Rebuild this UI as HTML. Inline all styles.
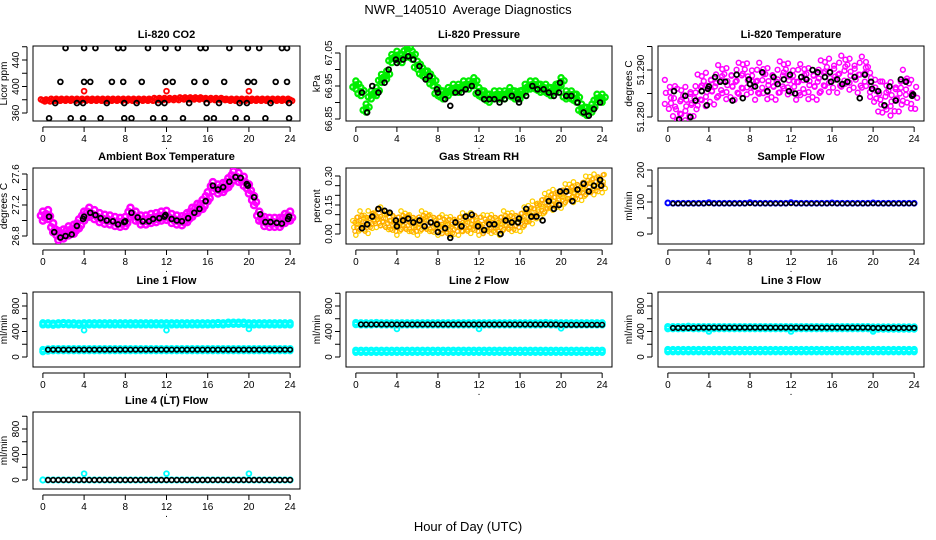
<!DOCTYPE html>
<html><head><meta charset="utf-8">
<style>
body{margin:0;background:#fff;}
svg{display:block;font-family:"Liberation Sans",sans-serif;}
.t{font-weight:bold;font-size:11px;text-anchor:middle;}
.tk{font-size:10px;text-anchor:middle;}
</style></head>
<body>
<svg id="chart" width="936" height="540" viewBox="0 0 936 540" xmlns="http://www.w3.org/2000/svg">
<text x="468" y="14" font-size="13" text-anchor="middle" xml:space="preserve">NWR_140510  Average Diagnostics</text>
<text x="468" y="531" font-size="13" text-anchor="middle">Hour of Day (UTC)</text>
</svg>
<script>
// ---------- data ----------
const hours49 = [0,0.5,1,1.5,2,2.5,3,3.5,4,4.5,5,5.5,6,6.5,7,7.5,8,8.5,9,9.5,10,10.5,11,11.5,12,12.5,13,13.5,14,14.5,15,15.5,16,16.5,17,17.5,18,18.5,19,19.5,20,20.5,21,21.5,22,22.5,23,23.5,24];
const xTicks = [0,4,8,12,16,20,24];

const co2Hours = [2.2,4.0,5.1,7.3,7.8,10.2,11.9,13.1,15.3,15.8,18.1,19.9,21.0,23.2,23.7, 1.7,4.0,4.6,6.7,7.8,9.6,11.9,12.6,14.7,15.8,17.6,19.9,20.5,22.6,23.7, 1.2,3.3,3.9,6.2,7.9,9.1,11.2,11.8,14.2,15.9,17.1,19.1,19.8,22.1,23.9, 0.6,2.7,3.9,5.6,7.9,8.6,10.7,11.8,13.6,15.9,16.6,18.7,19.8,21.6,23.9];
const co2Vals = [458,458,458,458,458,458,458,458,458,458,458,458,458,458,458, 407,407,407,407,407,407,407,407,407,407,407,407,407,407,407, 375,375,375,375,375,375,375,375,375,375,375,375,375,375,375, 352,352,352,352,352,352,352,352,352,352,352,352,352,352,352];
const co2Red = [379,379,380,380,380,380,380,380,380,380,380,380,380,380,380,380,380,380,380,380,380,380,381,381,381,381,381,382,382,382,382,382,381,381,381,381,380,380,380,380,380,380,380,380,380,380,380,380,380];
const co2RedOutHours = [4,12,20];
const co2RedOutVals = [393,393,393];

const pressGreen = [66.95,66.93,66.88,66.92,66.93,66.97,66.98,67.03,67.04,67.03,67.06,67.04,67.01,66.99,66.98,66.96,66.93,66.92,66.93,66.94,66.94,66.95,66.95,66.96,66.93,66.92,66.91,66.92,66.92,66.92,66.93,66.92,66.92,66.94,66.95,66.95,66.94,66.94,66.93,66.94,66.96,66.92,66.92,66.91,66.88,66.87,66.88,66.91,66.91];
const pressBlkHours = [0.6,1.1,1.6,2.2,2.8,3.2,3.9,4.0,4.6,5.1,5.6,6.2,6.8,7.2,7.9,8.0,8.7,9.2,9.7,10.3,10.7,11.3,11.9,12.5,13.0,13.5,14.0,14.5,15.2,15.8,15.9,16.6,17.2,17.7,18.3,18.8,19.3,19.8,19.9,20.5,21.0,21.6,22.2,22.7,23.2,23.8];
const pressBlkVals = [66.93,66.87,66.95,66.93,66.96,67.00,67.03,67.02,67.03,67.04,67.03,67.01,66.97,66.98,66.94,66.93,66.91,66.89,66.93,66.93,66.94,66.95,66.93,66.91,66.91,66.91,66.90,66.91,66.92,66.91,66.90,66.92,66.95,66.94,66.94,66.93,66.92,66.93,66.96,66.92,66.92,66.90,66.87,66.86,66.88,66.90];

const tempMag = [51.2845,51.2840,51.2820,51.2825,51.2830,51.2840,51.2850,51.2855,51.2860,51.2865,51.2870,51.2870,51.2870,51.2875,51.2875,51.2880,51.2880,51.2875,51.2875,51.2870,51.2870,51.2875,51.2878,51.2880,51.2880,51.2875,51.2872,51.2870,51.2870,51.2875,51.2880,51.2885,51.2890,51.2890,51.2890,51.2890,51.2890,51.2890,51.2888,51.2885,51.2860,51.2850,51.2835,51.2835,51.2840,51.2850,51.2860,51.2850,51.2845];
const tempBlkHours = [0.6,1.1,1.7,2.2,2.7,3.3,3.8,3.9,4.0,4.6,5.1,5.6,6.3,6.7,7.3,7.9,8.0,8.5,9.2,9.7,10.3,10.7,11.3,11.8,11.9,12.4,13.0,13.5,14.1,14.6,15.3,15.8,15.9,16.5,17.0,17.5,18.2,18.7,19.2,19.8,19.9,20.5,21.1,21.6,22.2,22.7,23.2,23.8,23.9];
const tempBlkVals = [51.2855,51.2795,51.2845,51.2800,51.2835,51.2855,51.2825,51.2860,51.2865,51.2885,51.2875,51.2875,51.2835,51.2890,51.2840,51.2880,51.2870,51.2865,51.2895,51.2855,51.2885,51.2870,51.2880,51.2855,51.2890,51.2850,51.2885,51.2880,51.2900,51.2895,51.2885,51.2895,51.2875,51.2880,51.2870,51.2875,51.2885,51.2840,51.2890,51.2875,51.2860,51.2855,51.2825,51.2865,51.2835,51.2880,51.2875,51.2845,51.2848];

const ambMag = [27.05,27.07,26.90,26.80,26.82,26.86,26.88,26.95,27.05,27.10,27.07,27.03,27.01,27.00,26.98,26.97,26.98,27.10,27.05,27.00,27.00,27.02,27.03,27.05,27.06,27.02,27.00,26.99,27.03,27.10,27.15,27.20,27.30,27.43,27.40,27.42,27.48,27.57,27.55,27.50,27.40,27.25,27.05,26.98,26.97,26.97,26.97,27.02,27.05];
const ambBlkHours = [0.6,1.1,1.7,2.2,2.8,3.3,3.9,4.0,4.6,5.1,5.6,6.2,6.8,7.3,7.9,8.0,8.6,9.2,9.7,10.3,10.7,11.3,11.8,11.9,12.5,13.0,13.5,14.1,14.7,15.2,15.8,16.5,17.0,17.5,18.1,18.7,19.2,19.8,19.9,20.5,21.1,21.6,22.1,22.7,23.2,23.8,23.9];
const ambBlkVals = [27.05,26.85,26.78,26.80,26.82,26.93,27.02,27.05,27.10,27.07,27.03,27.00,26.99,26.95,26.98,26.99,27.10,27.04,26.99,26.99,27.02,27.03,27.05,27.07,27.02,27.00,26.99,27.03,27.10,27.15,27.25,27.45,27.40,27.43,27.50,27.56,27.55,27.47,27.45,27.30,27.08,26.98,26.98,26.97,26.96,27.02,27.05];

const rhOrange = [0.05,0.06,0.05,0.07,0.09,0.08,0.07,0.06,0.05,0.06,0.06,0.05,0.05,0.06,0.06,0.05,0.05,0.04,0.04,0.04,0.05,0.05,0.05,0.06,0.05,0.04,0.05,0.05,0.05,0.06,0.06,0.06,0.07,0.08,0.10,0.12,0.14,0.15,0.17,0.18,0.19,0.20,0.21,0.22,0.23,0.24,0.25,0.26,0.27];
const rhBlkHours = [0.6,1.1,1.6,2.2,2.8,3.3,3.9,4.0,4.6,5.1,5.6,6.2,6.7,7.3,7.9,8.0,8.7,9.2,9.7,10.3,10.7,11.3,11.9,12.5,13.0,13.5,14.1,14.6,15.2,15.8,15.9,16.6,17.1,17.6,18.2,18.8,19.3,19.8,19.9,20.5,21.1,21.6,22.2,22.7,23.2,23.8,23.9];
const rhBlkVals = [0.03,0.05,0.09,0.13,0.12,0.11,0.07,0.04,0.07,0.08,0.06,0.07,0.04,0.06,0.05,0.01,0.03,-0.02,0.06,0.04,0.09,0.10,0.04,0.02,0.05,0.05,0.00,0.07,0.06,0.06,0.08,0.13,0.09,0.09,0.07,0.17,0.13,0.15,0.22,0.22,0.17,0.23,0.26,0.22,0.25,0.28,0.25];

const sampleBlue = [97,96,96,96,96,96,96,96,98,96,96,96,96,96,96,96,98,96,96,96,96,96,96,96,98,96,96,96,96,96,96,96,97,96,96,96,96,96,96,96,97,96,96,96,96,96,96,96,96];
const sampleBlk = [null,95,95,95,95,95,95,95,95,95,95,95,95,95,95,95,95,95,95,95,95,95,95,95,95,95,95,95,95,95,95,95,95,95,95,95,95,95,95,95,95,95,95,95,95,95,95,95,95];

const l1CyanHi = [520,520,515,520,525,520,520,515,520,520,520,520,520,520,520,520,520,520,520,520,520,520,520,520,520,520,520,520,520,520,520,520,520,520,525,520,530,530,530,530,520,520,520,520,520,520,520,520,520];
const l1CyanLo = [100,110,115,115,115,115,115,115,115,115,115,115,115,115,115,115,115,115,115,115,115,115,115,115,115,115,115,115,115,115,115,115,115,115,115,115,115,115,115,115,115,115,115,115,115,115,115,115,115];
const l1Blk = [null,115,115,115,115,115,115,115,115,115,115,115,115,115,115,115,115,115,115,115,115,115,115,115,115,115,115,115,115,115,115,115,115,115,115,115,115,115,115,115,115,115,115,115,115,115,115,115,115];
const l2CyanHi = [525,520,520,520,525,520,520,520,520,520,520,520,520,520,520,520,520,520,520,520,520,520,520,520,520,520,520,520,520,520,520,520,520,520,520,520,520,525,520,520,520,520,520,520,520,520,520,520,520];
const l2CyanLo = [90,90,90,90,90,90,90,90,90,90,90,90,90,90,90,90,90,90,90,90,90,90,90,90,90,90,90,90,90,90,90,90,90,90,90,90,90,90,90,90,90,90,90,90,90,90,90,90,90];
const l2Blk = [null,510,510,510,510,510,510,510,510,510,510,510,510,510,510,510,510,510,510,510,510,510,510,510,510,510,510,510,510,510,510,510,510,510,510,510,510,510,510,510,505,505,505,505,505,505,505,505,505];
const l3CyanHi = [460,460,460,460,465,460,460,460,460,460,460,460,460,460,460,460,460,460,460,460,460,460,460,460,460,460,460,460,460,460,460,460,460,460,460,460,460,460,460,460,455,455,455,455,455,455,455,455,455];
const l3CyanLo = [100,100,100,100,100,100,100,100,100,100,100,100,100,100,100,100,100,100,100,100,100,100,100,100,100,100,100,100,100,100,100,100,100,100,100,100,100,100,100,100,100,100,100,100,100,100,100,100,100];
const l3Blk = [null,455,455,455,455,455,460,460,460,460,460,460,460,460,460,460,460,460,460,460,460,460,460,460,460,460,460,460,460,460,460,460,460,460,460,460,460,460,460,460,455,455,455,455,455,455,455,455,455];
const l4Cyan = [0,0,0,0,0,0,0,0,0,0,0,0,0,0,0,0,0,0,0,0,0,0,0,0,0,0,0,0,0,0,0,0,0,0,0,0,0,0,0,0,0,0,0,0,0,0,0,0,0];
const l4Blk = [null,0,0,0,0,0,0,0,0,0,0,0,0,0,0,0,0,0,0,0,0,0,0,0,0,0,0,0,0,0,0,0,0,0,0,0,0,0,0,0,0,0,0,0,0,0,0,0,0];
const outHours = [4,12,20];
const l1Out = [420,420,440];
const l2Out = [440,440,450];
const l3Out = [400,400,400];
const l4Out = [100,100,100];

// ---------- drawing ----------
const NS = 'http://www.w3.org/2000/svg';
const svg = document.getElementById('chart');
function mk(tag, attrs, parent){
  const e = document.createElementNS(NS, tag);
  for (const k in attrs) e.setAttribute(k, attrs[k]);
  (parent||svg).appendChild(e);
  return e;
}
const cols = [[33,300],[346,612],[658,924]];
const rows = [[46,121],[168,244],[292,367],[412,489]];

function panel(name, title, ytitle, c, r, v1, p1, v2, p2, yticks, ylabels, fmt){
  const [L,R] = cols[c], [T,B] = rows[r];
  const g = mk('g', {});
  
  
  const xs = h => L + (R-L)*(h+0.96)/25.92;
  const ys = v => p1 + (v - v1)*(p2-p1)/(v2-v1);
  const t = mk('text', {x:(L+R)/2, y:T-8, class:'t'}, g); t.textContent = title;
  
  
  const box = mk('rect', {x:L, y:T, width:R-L, height:B-T, fill:'none', stroke:'#000', 'stroke-width':1}, g);
  
  
  const xa = mk('g', {}, g);
  
  
  mk('line', {x1:xs(0), x2:xs(24), y1:B+6, y2:B+6, stroke:'#000'}, xa);
  xTicks.forEach(h => {
    mk('line', {x1:xs(h), x2:xs(h), y1:B+6, y2:B+11, stroke:'#000'}, xa);
    const tx = mk('text', {x:xs(h), y:B+21, class:'tk'}, xa); tx.textContent = h;
  });
  const dot = mk('text', {x:(L+R)/2, y:B+28, class:'tk'}, xa); dot.textContent = '.';
  const ya = mk('g', {}, g);
  
  
  mk('line', {x1:L-6, x2:L-6, y1:Math.min(...yticks.map(ys)), y2:Math.max(...yticks.map(ys)), stroke:'#000'}, ya);
  yticks.forEach(v => mk('line', {x1:L-11, x2:L-6, y1:ys(v), y2:ys(v), stroke:'#000'}, ya));
  ylabels.forEach(v => {
    const tx = mk('text', {x:L-14, y:ys(v), class:'tk', transform:`rotate(-90 ${L-14} ${ys(v)})`}, ya);
    tx.textContent = fmt ? fmt(v) : v;
  });
  const yt = mk('text', {x:L-26, y:(T+B)/2, class:'tk', transform:`rotate(-90 ${L-26} ${(T+B)/2})`}, g);
  yt.textContent = ytitle;
  
  
  const clip = 'clip' + name;
  const cp = mk('clipPath', {id:clip}, g); mk('rect', {x:L, y:T, width:R-L, height:B-T}, cp);
  const plot = mk('g', {'clip-path':`url(#${clip})`}, g);
  return {xs, ys, g:plot, name};
}
function pts(P, hrs, vals, color, sname, opts){
  opts = opts || {};
  const sg = mk('g', {}, P.g);
  
  
  hrs.forEach((h, i) => {
    const v = vals[i];
    if (v === null || v === undefined) return;
    const x = P.xs(h), y = P.ys(v);
    const offs = opts.band ? (typeof opts.band === 'function' ? opts.band(i) : opts.band) : [[0,0]];
    offs.forEach(o => {
      const c = mk('circle', {cx:x+o[0], cy:y+o[1], r:opts.r||2.4, fill:opts.fill||'none', stroke:color, 'stroke-width':opts.sw||1.8}, sg);
      
      
    });
  });
}
const RED='#ff0000', GRN='#00ee00', MAG='#ff00ff', ORG='#ffa500', CY='#00ffff', BLU='#0000ff';

// CO2
let P = panel('co2','Li-820 CO2','Licor ppm',0,0,360,113,440,60,[360,380,400,420,440,460],[360,400,440]);
pts(P, hours49, co2Red, RED, 'co2-red', {band:[[-2,-1],[2,1],[0,0]], r:2.3, sw:2});
pts(P, co2RedOutHours, co2RedOutVals, RED, 'co2-red-outlier');
pts(P, co2Hours, co2Vals, '#000', 'co2-black');

// Pressure
P = panel('pressure','Li-820 Pressure','kPa',1,0,66.85,119,67.05,53,[66.85,66.90,66.95,67.00,67.05],[66.85,66.95,67.05],v=>v.toFixed(2));
pts(P, hours49, pressGreen, GRN, 'pressure-green', {band:[[0,-5],[0,-1],[0,3],[-3,1],[3,-2]], r:2.6, sw:2.2});
pts(P, pressBlkHours, pressBlkVals, '#000', 'pressure-black');

// Temperature (irregular scatter pattern)
const scatterSets = [
  [[-3,-16],[2,-9],[-2,-3],[3,2],[-3,8],[1,13]],
  [[2,-12],[-3,-6],[1,0],[-2,5],[3,11],[0,18]],
  [[-1,-19],[3,-8],[-3,-1],[2,6],[-1,12]],
  [[0,-10],[-3,-4],[3,1],[-2,9],[2,15],[-2,-15]]
];
P = panel('li820-temp','Li-820 Temperature','degrees C',2,0,51.280,117,51.290,70,[51.280,51.285,51.290,51.295],[51.280,51.290],v=>v.toFixed(3));
pts(P, hours49, tempMag, MAG, 'temp-magenta', {band:i=>scatterSets[i%4], r:2.4, sw:1.5});
pts(P, tempBlkHours, tempBlkVals, '#000', 'temp-black');

// Ambient
P = panel('ambient','Ambient Box Temperature','degrees C',0,1,26.8,236,27.6,174,[26.8,27.0,27.2,27.4,27.6],[26.8,27.2,27.6],v=>v.toFixed(1));
pts(P, hours49, ambMag, MAG, 'ambient-magenta', {band:[[0,-5],[-2,-1],[2,1],[0,4]], r:3, sw:2.5});
pts(P, ambBlkHours, ambBlkVals, '#000', 'ambient-black');

// RH
P = panel('rh','Gas Stream RH','percent',1,1,0,234,0.30,176,[0,0.05,0.10,0.15,0.20,0.25,0.30],[0,0.15,0.30],v=>v.toFixed(2));
pts(P, hours49, rhOrange, '#ffd000', 'rh-yellow', {band:i=>scatterSets[(i+1)%4].map(o=>[o[0],o[1]*0.6]), r:2.2, sw:1.3});
pts(P, hours49, rhOrange, ORG, 'rh-orange', {band:[[1,-7],[-1,-2],[1,3],[-1,7]], r:2, sw:1.2});
pts(P, rhBlkHours, rhBlkVals, '#000', 'rh-black');

// Sample flow
P = panel('sample-flow','Sample Flow','ml/min',2,1,0,234,200,170,[0,50,100,150,200],[0,100,200]);
pts(P, hours49, sampleBlue, BLU, 'sample-blue', {r:2.4, sw:2});
pts(P, hours49, sampleBlk, '#000', 'sample-black', {r:2, sw:1.3});

// Line flows
const fticks=[0,200,400,600,800,1000], flabels=[0,400,800];
const cyBand = {band:[[0,-1],[0,1]], r:2.6, sw:2.2};
P = panel('line1','Line 1 Flow','ml/min',0,2,0,357,800,306,fticks,flabels);
pts(P, hours49, l1CyanHi, CY, 'line1-cyan-high', cyBand);
pts(P, hours49, l1CyanLo, CY, 'line1-cyan-low', cyBand);
pts(P, outHours, l1Out, CY, 'line1-cyan-outlier');
pts(P, hours49, l1Blk, '#000', 'line1-black', {r:2.3, sw:1.6});

P = panel('line2','Line 2 Flow','ml/min',1,2,0,357,800,306,fticks,flabels);
pts(P, hours49, l2CyanHi, CY, 'line2-cyan-high', cyBand);
pts(P, hours49, l2CyanLo, CY, 'line2-cyan-low', cyBand);
pts(P, outHours, l2Out, CY, 'line2-cyan-outlier');
pts(P, hours49, l2Blk, '#000', 'line2-black', {r:2.3, sw:1.6});

P = panel('line3','Line 3 Flow','ml/min',2,2,0,357,800,306,fticks,flabels);
pts(P, hours49, l3CyanHi, CY, 'line3-cyan-high', cyBand);
pts(P, hours49, l3CyanLo, CY, 'line3-cyan-low', cyBand);
pts(P, outHours, l3Out, CY, 'line3-cyan-outlier');
pts(P, hours49, l3Blk, '#000', 'line3-black', {r:2.3, sw:1.6});

P = panel('line4','Line 4 (LT) Flow','ml/min',0,3,0,480,800,429,fticks,flabels);
pts(P, hours49, l4Cyan, CY, 'line4-cyan', {r:2.6, sw:2});
pts(P, outHours, l4Out, CY, 'line4-cyan-outlier');
pts(P, hours49, l4Blk, '#000', 'line4-black', {r:2.3, sw:1.6});
</script>
</body></html>
